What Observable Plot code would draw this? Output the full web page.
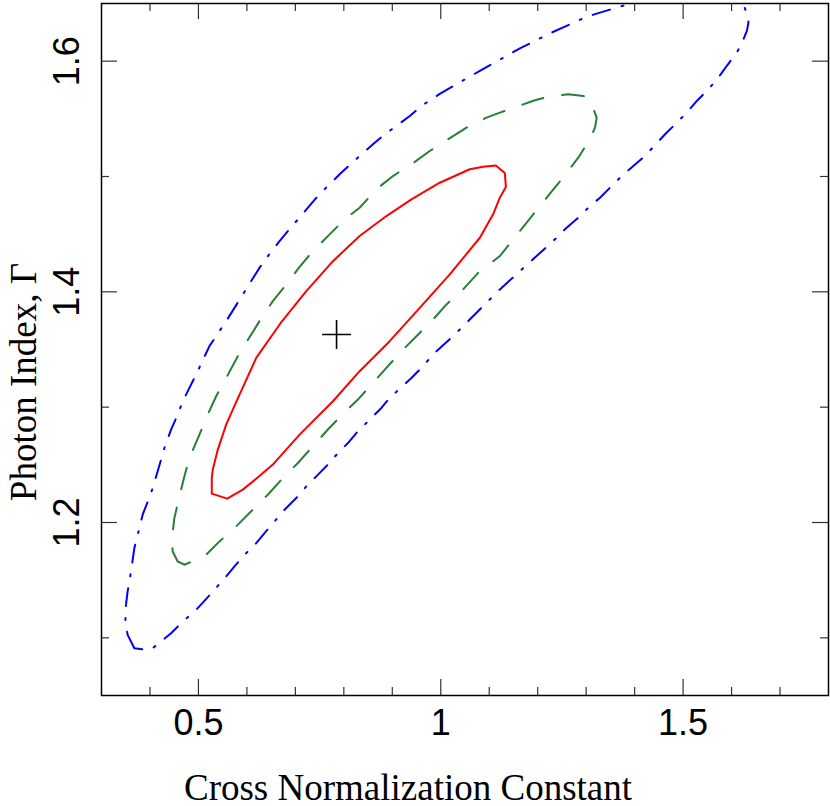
<!DOCTYPE html>
<html><head><meta charset="utf-8">
<script src="https://cdn.jsdelivr.net/npm/d3@7"></script>
<script src="https://cdn.jsdelivr.net/npm/@observablehq/plot@0.6"></script>
<style>body{margin:0;background:#fff}</style>
</head><body><div id="chart"></div>
<script>
// Confidence contours (x = cross normalization constant, y = photon index)
const red = [[0.5275,1.2250],[0.5275,1.2385],[0.5295,1.2458],[0.5400,1.2632],[0.5572,1.2849],[0.5785,1.3051],[0.6192,1.3427],[0.6694,1.3728],[0.7225,1.4006],[0.7775,1.4266],[0.8326,1.4484],[0.8878,1.4657],[0.9395,1.4802],[0.9979,1.4946],[1.0599,1.5063],[1.0874,1.5085],[1.1136,1.5095],[1.1322,1.5030],[1.1343,1.4909],[1.1219,1.4816],[1.1080,1.4672],[1.0806,1.4469],[1.0186,1.4151],[0.9566,1.3861],[0.8946,1.3572],[0.8326,1.3312],[0.7775,1.3051],[0.7087,1.2762],[0.6535,1.2502],[0.6192,1.2380],[0.5915,1.2285],[0.5593,1.2207]];
const green = [[0.4711,1.1634],[0.4572,1.1662],[0.4469,1.1749],[0.4448,1.1851],[0.4504,1.2038],[0.4607,1.2227],[0.4711,1.2400],[0.4814,1.2559],[0.5021,1.2762],[0.5192,1.2936],[0.5366,1.3095],[0.5572,1.3253],[0.5812,1.3442],[0.6260,1.3746],[0.6535,1.3919],[0.6812,1.4064],[0.7087,1.4217],[0.7362,1.4353],[0.7707,1.4498],[0.8017,1.4628],[0.8326,1.4729],[0.8671,1.4889],[0.9014,1.5004],[0.9395,1.5106],[0.9773,1.5221],[1.0151,1.5323],[1.0531,1.5424],[1.0944,1.5510],[1.1219,1.5554],[1.1942,1.5661],[1.2217,1.5693],[1.2630,1.5714],[1.2940,1.5699],[1.3079,1.5664],[1.3217,1.5510],[1.3182,1.5424],[1.3079,1.5323],[1.2837,1.5163],[1.2562,1.5013],[1.2252,1.4851],[1.1219,1.4310],[1.0771,1.4165],[1.0461,1.4021],[1.0118,1.3891],[0.9841,1.3760],[0.9498,1.3615],[0.9188,1.3485],[0.8878,1.3340],[0.8601,1.3210],[0.8291,1.3066],[0.7969,1.2936],[0.7671,1.2806],[0.7362,1.2661],[0.7052,1.2516],[0.6742,1.2385],[0.6432,1.2241],[0.6122,1.2111],[0.5779,1.1966],[0.5434,1.1836],[0.5145,1.1714]];
const blue = [[0.3678,1.0910],[0.3539,1.1026],[0.3492,1.1141],[0.3506,1.1287],[0.3539,1.1402],[0.3609,1.1576],[0.3678,1.1778],[0.3781,1.1951],[0.3849,1.2068],[0.4023,1.2255],[0.4159,1.2444],[0.4298,1.2646],[0.4436,1.2806],[0.4572,1.2936],[0.4676,1.3051],[0.4814,1.3167],[0.4952,1.3283],[0.5227,1.3529],[0.5572,1.3746],[0.5744,1.3861],[0.5915,1.3977],[0.6260,1.4208],[0.6432,1.4310],[0.6674,1.4440],[0.6845,1.4527],[0.7052,1.4628],[0.7465,1.4831],[0.7671,1.4918],[0.7913,1.5019],[0.8326,1.5178],[0.8601,1.5280],[0.8843,1.5366],[0.9085,1.5438],[0.9360,1.5525],[0.9601,1.5612],[0.9979,1.5716],[1.0806,1.5916],[1.1632,1.6111],[1.2287,1.6248],[1.2597,1.6306],[1.2907,1.6365],[1.3182,1.6408],[1.3527,1.6451],[1.4525,1.6578],[1.5351,1.6613],[1.5971,1.6578],[1.6219,1.6523],[1.6281,1.6451],[1.6329,1.6393],[1.6349,1.6335],[1.6316,1.6263],[1.6246,1.6191],[1.6110,1.6075],[1.5903,1.5960],[1.5729,1.5858],[1.5523,1.5757],[1.5283,1.5655],[1.5077,1.5554],[1.4870,1.5467],[1.4628,1.5366],[1.4421,1.5273],[1.4215,1.5178],[1.3973,1.5091],[1.3733,1.5004],[1.3527,1.4918],[1.3285,1.4816],[1.3043,1.4729],[1.2837,1.4642],[1.2562,1.4542],[1.2355,1.4455],[1.1219,1.4021],[1.0977,1.3919],[1.0738,1.3818],[1.0289,1.3630],[0.9841,1.3457],[0.9634,1.3355],[0.9395,1.3253],[0.8946,1.3080],[0.8775,1.2993],[0.8533,1.2892],[0.8291,1.2791],[0.8085,1.2689],[0.7878,1.2602],[0.7671,1.2502],[0.7432,1.2400],[0.7225,1.2313],[0.7019,1.2212],[0.6777,1.2111],[0.6570,1.2010],[0.6364,1.1908],[0.6192,1.1821],[0.5950,1.1720],[0.5744,1.1619],[0.5572,1.1532],[0.5331,1.1417],[0.5124,1.1321],[0.4952,1.1243],[0.4676,1.1141],[0.4436,1.1040],[0.4229,1.0968],[0.4056,1.0910],[0.3919,1.0896]];
const bestFit = [[0.785, 1.363]];

const xMajorTicks = [0.5, 1, 1.5];
const xTickLabels = ["0.5", "1", "1.5"];
const xMinorTicks = [0.4, 0.6, 0.7, 0.8, 0.9, 1.1, 1.2, 1.3, 1.4, 1.6, 1.7];
const yMajorTicks = [1.2, 1.4, 1.6];
const yTickLabels = ["1.2", "1.4", "1.6"];
const yMinorTicks = [1.1, 1.3, 1.5];
const xTitle = "Cross Normalization Constant";
const yTitle = "Photon Index, Γ";

const W = 830, H = 806, mL = 101, mR = 2, mT = 3, mB = 111;
const pw = W - mL - mR, ph = H - mT - mB;
const MAJ = 16, MIN = 8;
const closeLoop = a => a.concat([a[0]]);
const plus = {draw(ctx, size) { const r = Math.sqrt(size / Math.PI); ctx.moveTo(-r, 0); ctx.lineTo(r, 0); ctx.moveTo(0, -r); ctx.lineTo(0, r); }};
const sans = "'Liberation Sans', Arial, Helvetica, sans-serif";
const serif = "'Liberation Serif', 'Times New Roman', serif";
const tk = {stroke: "#333", strokeWidth: 1.2};

const chart = Plot.plot({
  width: W, height: H,
  marginLeft: mL, marginRight: mR, marginTop: mT, marginBottom: mB,
  x: {domain: [0.3, 1.8], axis: null},
  y: {domain: [1.05, 1.65], axis: null},
  style: {background: "#fff", overflow: "visible"},
  marks: [
    Plot.line(closeLoop(blue), {x: d => d[0], y: d => d[1], stroke: "#0000ff", strokeWidth: 2, strokeDasharray: "18,12,2,12", clip: true}),
    Plot.line(closeLoop(green), {x: d => d[0], y: d => d[1], stroke: "#267f35", strokeWidth: 2, strokeDasharray: "22,19", clip: true}),
    Plot.line(closeLoop(red), {x: d => d[0], y: d => d[1], stroke: "#ff0000", strokeWidth: 2, clip: true}),
    Plot.dot(bestFit, {x: d => d[0], y: d => d[1], r: 14.5, symbol: plus, stroke: "#000", strokeWidth: 1.6, fill: "none"}),
    // ticks (inward, all four sides)
    Plot.ruleX(xMajorTicks, {x: d => d, insetTop: ph - MAJ, ...tk}),
    Plot.ruleX(xMajorTicks, {x: d => d, insetBottom: ph - MAJ, ...tk}),
    Plot.ruleX(xMinorTicks, {x: d => d, insetTop: ph - MIN, ...tk}),
    Plot.ruleX(xMinorTicks, {x: d => d, insetBottom: ph - MIN, ...tk}),
    Plot.ruleY(yMajorTicks, {y: d => d, insetRight: pw - MAJ, ...tk}),
    Plot.ruleY(yMajorTicks, {y: d => d, insetLeft: pw - MAJ, ...tk}),
    Plot.ruleY(yMinorTicks, {y: d => d, insetRight: pw - MIN, ...tk}),
    Plot.ruleY(yMinorTicks, {y: d => d, insetLeft: pw - MIN, ...tk}),
    Plot.frame({stroke: "#000", strokeWidth: 1.5}),
    // tick labels
    Plot.text(xMajorTicks, {x: d => d, text: (d, i) => xTickLabels[i], frameAnchor: "bottom", dy: 39.5, lineAnchor: "bottom", textAnchor: "middle", fontSize: 36, fontFamily: sans, fill: "#000"}),
    Plot.text(yMajorTicks, {y: d => d, text: (d, i) => yTickLabels[i], frameAnchor: "left", dx: -22.5, rotate: -90, lineAnchor: "bottom", textAnchor: "middle", fontSize: 36, fontFamily: sans, fill: "#000", ariaLabel: "ytick-labels"}),
    // axis titles
    Plot.text([xTitle], {text: d => d, frameAnchor: "bottom", dx: -57, dy: 104, lineAnchor: "bottom", textAnchor: "middle", fontSize: 37, fontFamily: serif, fill: "#000"}),
    Plot.text([yTitle], {text: d => d, frameAnchor: "left", dx: -66, dy: 32.5, rotate: -90, lineAnchor: "bottom", textAnchor: "middle", fontSize: 37, fontFamily: serif, fill: "#000"})
  ]
});
d3.select(chart).selectAll('g[aria-label="ytick-labels"] text').attr("transform", function() {
  const t = this.getAttribute("transform");
  return t ? t + " scale(1,1.13)" : null;
});
document.getElementById("chart").appendChild(chart);
</script>
</body></html>
